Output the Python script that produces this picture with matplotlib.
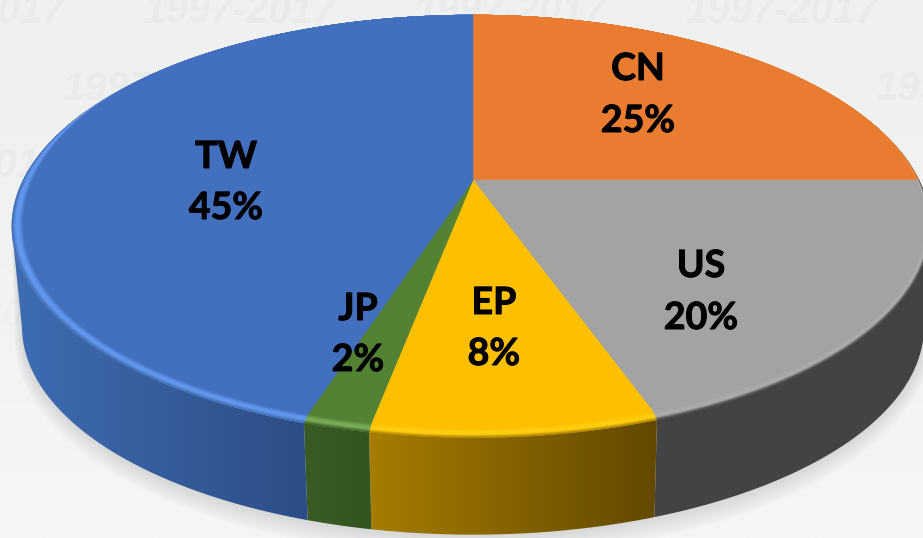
import numpy as np
import matplotlib
matplotlib.use("Agg")
import matplotlib.pyplot as plt
import matplotlib.patheffects as pe
from matplotlib.patches import Polygon
from matplotlib.colors import LinearSegmentedColormap

# ---- data (share of the pie, in drawing order, clockwise from 12 o'clock)
labels = ["CN", "US", "EP", "JP", "TW"]
values = [25.0, 19.7, 8.2, 1.9, 45.2]

# ---- styles
face_colors = ["#EA7C31", "#A3A3A3", "#FDC000", "#548235", "#4270BF"]
bevel_colors = ["#F08A40", "#ABABAB", "#FFCE10", "#78AA58", "#6496EC"]
side_left = ["#A05A20", "#434343", "#A67D00", "#3A5C24", "#3E6DB2"]
side_right = ["#A05A20", "#434343", "#634800", "#345420", "#2D4D87"]
label_pos = [(638, 69, 121), (701, 266, 318), (494, 303, 354), (358, 309, 360), (226, 157, 208)]
watermark = "1997-2017"
wm_rows = [(23, -128, "#E9EAEA"), (100, 62, "#E9EAEA"), (177, -131, "#E9EBEB"), (327, -123, "#EEEFEF")]

W, H = 923, 538
CX, CY = 473.0, 180.0
OUTER = dict(bl=450.0, br=446.0, dl=0.0, dr=0.0, a=201.2, k=0.2194, cy=CY)
FACE = dict(bl=450.0, br=446.0, dl=10.0, dr=4.0, a=198.2, k=0.2012, cy=CY)
LOWER = dict(bl=440.0, br=440.0, dl=0.0, dr=0.0, a=198.0, k=0.2194, cy=281.0)
FRONT = np.radians([103.0, 257.0])  # the part of the wall that faces the viewer


def project(theta, g):
    """Perspective view of a unit circle; theta is clockwise from the top."""
    x, y = np.sin(theta), np.cos(theta)
    d = 1 + g["k"] * y
    w = np.where(y < 0, x ** 2, x ** 8)  # the bevel is widest at the sides of the pie
    b = np.where(x >= 0, g["br"] - g["dr"] * w, g["bl"] - g["dl"] * w)
    return np.column_stack([CX + b * x / d, g["cy"] - g["a"] * y / d])


def mix(g1, g2, s):
    return {n: g1[n] + (g2[n] - g1[n]) * s for n in g1}


def rgb(c):
    return np.array(matplotlib.colors.to_rgb(c))


fig = plt.figure(figsize=(W / 100, H / 100), dpi=100)
ax = fig.add_axes([0, 0, 1, 1])

# background
bg = LinearSegmentedColormap.from_list("bg", ["#EFF1F1", "#F1F3F3", "#F5F6F5"])
ax.imshow(np.linspace(0, 1, 256)[:, None], cmap=bg, extent=(0, W, H, 0), aspect="auto", zorder=0)

for base, start, col in wm_rows:
    for i in range(5):
        ax.text(start + 271 * i, base, watermark, family="Liberation Sans", weight="bold",
                style="italic", fontsize=29, color=col, ha="left", va="baseline", zorder=1,
                clip_on=True)

# slice angles
edges = np.concatenate([[0], np.cumsum(values)]) / np.sum(values) * 2 * np.pi
arcs = [np.linspace(edges[i], edges[i + 1], 200) for i in range(len(values))]

# soft shadow below the pie
front_all = np.linspace(FRONT[0], FRONT[1], 400)
for i in range(9, 0, -1):
    g = dict(LOWER, bl=LOWER["bl"] + 0.8 * i, br=LOWER["br"] + 0.8 * i,
             a=LOWER["a"] + 0.9 * i, cy=LOWER["cy"] + 1.2 * i)
    shadow = np.vstack([project(front_all, g), project(front_all[::-1], OUTER)])
    ax.add_patch(Polygon(shadow, closed=True, fc="#9A9E9E", ec="none", alpha=0.035, zorder=2))

# side walls with a left-to-right gradient
for i, name in enumerate(labels):
    t0 = max(edges[i], FRONT[0])
    t1 = min(edges[i + 1], FRONT[1])
    if t1 <= t0:
        continue
    arc = np.linspace(t0, t1, 200)
    pts = np.vstack([project(arc, OUTER), project(arc, LOWER)[::-1]])
    cmap = LinearSegmentedColormap.from_list(f"s{i}", [side_left[i], side_right[i]])
    x0, x1 = pts[:, 0].min(), pts[:, 0].max()
    im = ax.imshow(np.linspace(0, 1, 256)[None, :], cmap=cmap,
                   extent=(x0, x1, H, 0), aspect="auto", zorder=3)
    im.set_clip_path(Polygon(pts, closed=True, transform=ax.transData))

# bevel and top face, painted from the outer rim inwards
for s in np.linspace(1, 0, 17):
    g = mix(FACE, OUTER, s)
    for i, arc in enumerate(arcs):
        if s > 0.65:
            f = (s - 0.65) / 0.35
            c = rgb(bevel_colors[i]) * (1 - f) + rgb(side_left[i]) * f
        elif s > 0.4:
            c = rgb(bevel_colors[i])
        else:
            f = s / 0.4
            c = rgb(face_colors[i]) * (1 - f) + rgb(bevel_colors[i]) * f
        poly = np.vstack([[CX, CY], project(arc, g)])
        ax.add_patch(Polygon(poly, closed=True, fc=c, ec=c, lw=0.3, zorder=4))

# data labels
stroke = [pe.withStroke(linewidth=0.7, foreground="black")]
for name, val, (x, y1, y2) in zip(labels, values, label_pos):
    ax.text(x, y1, name, family="Lato", weight="bold", fontsize=27, color="black",
            ha="center", va="center", zorder=6, path_effects=stroke)
    ax.text(x, y2, f"{val:.0f}%", family="Lato", weight="bold", fontsize=27, color="black",
            ha="center", va="center", zorder=6, path_effects=stroke)

ax.set_xlim(0, W)
ax.set_ylim(H, 0)
ax.axis("off")
fig.savefig("out.png", dpi=100)
